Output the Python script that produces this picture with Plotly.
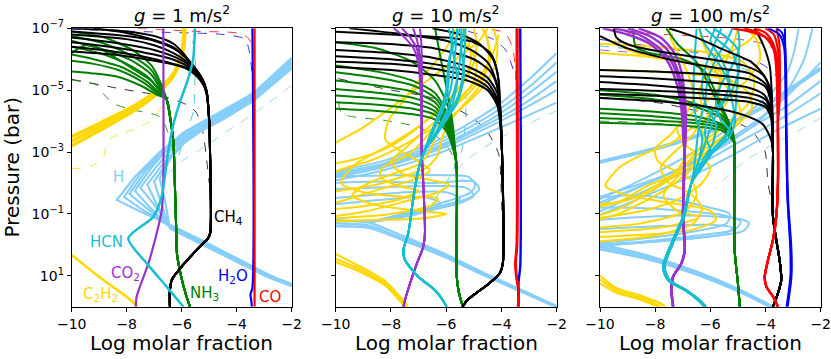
import plotly.graph_objects as go

# ---------------- colours ----------------
C_CH4 = "black"
C_NH3 = "#008000"
C_C2H2 = "#FFD700"
C_HCN = "#17BECF"
C_CO2 = "#9932CC"
C_H = "#87CEFA"
C_H2O = "#0000FF"
C_CO = "#FF0000"

titles = ["<i>g</i> = 1 m/s<sup>2</sup>", "<i>g</i> = 10 m/s<sup>2</sup>", "<i>g</i> = 100 m/s<sup>2</sup>"]
x_ticks = [-10, -8, -6, -4, -2]
x_ticktext = ["\u221210", "\u22128", "\u22126", "\u22124", "\u22122"]
y_tick_exp = [-7, -5, -3, -1, 1]
y_ticktext = ["10<sup>\u22127</sup>", "10<sup>\u22125</sup>", "10<sup>\u22123</sup>", "10<sup>\u22121</sup>", "10<sup>1</sup>"]

# points are (log molar fraction, log10 pressure [bar])
# ================= PANEL 1 : g = 1 =================
p1_CO = [(-3.35, -7.0), (-3.35, 2.0)]
p1_H2O = [(-3.43, -7.0), (-3.43, 1.4), (-3.5, 1.6), (-3.47, 1.8), (-3.45, 2.0)]
p1_CO_thin = [(-7.6, -7.0), (-5.5, -6.9), (-4.0, -6.85), (-3.6, -6.7), (-3.4, -6.4)]
p1_H2O_thin = [(-10.0, -6.97), (-7.0, -6.88), (-4.5, -6.8), (-3.7, -6.65), (-3.55, -6.3), (-3.45, -5.6)]

p1_CH4_heads = [
    [(-10, -7.0), (-8, -6.9), (-7, -6.75), (-6.3, -6.5), (-5.9, -6.15), (-5.6, -5.8), (-5.3, -5.45), (-5.1, -5.0)],
    [(-10, -6.9), (-8, -6.75), (-7, -6.6), (-6.3, -6.35), (-5.85, -6.05), (-5.55, -5.75), (-5.3, -5.42), (-5.1, -5.0)],
    [(-10, -6.8), (-8, -6.65), (-7, -6.45), (-6.3, -6.2), (-5.85, -5.95), (-5.55, -5.7), (-5.28, -5.38), (-5.1, -4.98)],
    [(-10, -6.7), (-8.2, -6.5), (-7, -6.3), (-6.2, -6.05), (-5.8, -5.85), (-5.5, -5.6), (-5.25, -5.35), (-5.1, -4.95)],
    [(-10, -6.55), (-8.2, -6.35), (-7, -6.15), (-6.2, -5.95), (-5.75, -5.75), (-5.45, -5.5), (-5.22, -5.25), (-5.08, -4.9)],
    [(-10, -6.4), (-8.5, -6.25), (-7.2, -6.05), (-6.3, -5.85), (-5.75, -5.7), (-5.4, -5.45), (-5.2, -5.2), (-5.08, -4.85)],
    [(-9.2, -7.0), (-8, -6.85), (-7, -6.62), (-6.3, -6.38), (-5.8, -6.0), (-5.5, -5.7), (-5.25, -5.35), (-5.1, -4.95)],
    [(-10, -6.25), (-8.5, -6.15), (-7.3, -6.0), (-6.4, -5.85), (-5.8, -5.68), (-5.45, -5.45), (-5.2, -5.15), (-5.08, -4.8)],
]
p1_CH4_tail = [(-5.0, -4.0), (-4.97, -3.0), (-4.96, -0.4), (-5.05, -0.2), (-5.33, 0.05), (-6.0, 0.7), (-6.36, 1.13), (-6.43, 1.5), (-6.43, 2.0)]
p1_CH4_thin = [(-10, -5.35), (-8.2, -5.04), (-6.67, -4.8), (-5.82, -4.53), (-5.46, -4.27), (-5.22, -3.6), (-5.1, -2.8), (-5.0, -2.0)]

p1_NH3_heads = [
    [(-10, -6.9), (-8.8, -6.7), (-7.8, -6.3), (-7.1, -5.8), (-6.75, -5.2), (-6.55, -4.7)],
    [(-10, -6.75), (-8.8, -6.5), (-7.8, -6.1), (-7.1, -5.65), (-6.75, -5.1), (-6.55, -4.7)],
    [(-10, -6.6), (-8.8, -6.3), (-7.8, -5.95), (-7.1, -5.5), (-6.75, -5.0), (-6.55, -4.7)],
    [(-10, -6.4), (-9, -6.2), (-8, -5.85), (-7.2, -5.4), (-6.78, -4.95), (-6.55, -4.7)],
    [(-10, -6.15), (-9.2, -6.0), (-8.2, -5.75), (-7.3, -5.3), (-6.8, -4.9), (-6.55, -4.7)],
    [(-10, -5.95), (-9.2, -5.85), (-8.3, -5.65), (-7.4, -5.25), (-6.85, -4.88), (-6.55, -4.7)],
    [(-10, -5.6), (-9.3, -5.55), (-8.4, -5.45), (-7.5, -5.15), (-6.9, -4.85), (-6.55, -4.7)],
    [(-10, -6.2), (-9.5, -6.45), (-9.0, -6.35), (-8.5, -6.1), (-7.8, -5.7), (-7.1, -5.3), (-6.75, -4.95), (-6.55, -4.7)],
]
p1_NH3_tail = [(-6.4, -4.0), (-6.3, -3.3), (-6.25, -2.0), (-6.2, -0.5), (-6.17, 0.3), (-6.0, 1.1), (-5.85, 1.6), (-5.7, 2.0)]
p1_NH3_thin = [(-10.0, -5.33), (-9.09, -5.17), (-8.97, -5.01), (-8.48, -4.57), (-7.76, -4.36), (-6.79, -4.14), (-6.49, -3.61), (-6.36, -3.07)]

p1_C2H2_band = [
    [(-10, -3.5), (-8.87, -3.98), (-7.66, -4.53), (-6.81, -5.05), (-6.27, -5.58), (-5.98, -6.3), (-5.92, -7.0)],
    [(-10, -3.35), (-8.87, -3.87), (-7.66, -4.46), (-6.81, -5.0), (-6.27, -5.54), (-5.96, -6.3), (-5.9, -7.0)],
    [(-10, -3.2), (-8.87, -3.75), (-7.66, -4.38), (-6.81, -4.95), (-6.27, -5.5), (-5.94, -6.3), (-5.88, -7.0)],
]
p1_C2H2_deep = [(-10, 0.33), (-8.85, 1.14), (-8.0, 1.68), (-7.6, 2.0)]
p1_C2H2_thin = [(-10, -2.47), (-9.33, -2.52), (-8.85, -2.85), (-8.67, -3.39), (-7.64, -3.77), (-7.16, -3.99), (-6.79, -4.41), (-6.6, -4.9)]

p1_CO2 = [(-6.67, -7.0), (-6.67, -2.0), (-6.72, -1.13), (-6.85, -0.59), (-7.21, 0.6), (-7.52, 1.35), (-7.64, 1.68), (-7.67, 2.0)]

p1_HCN = [(-5.52, -7.0), (-5.58, -6.03), (-5.76, -5.38), (-6.06, -4.63), (-6.31, -3.87), (-6.49, -3.01), (-6.55, -2.64),
          (-6.73, -1.56), (-7.03, -0.91), (-7.94, -0.21), (-7.27, 0.6), (-6.55, 1.35), (-5.94, 2.0)]
p1_HCN_thin = [(-5.6, -6.6), (-5.5, -5.9), (-5.52, -5.27), (-5.58, -4.3), (-5.88, -3.55), (-6.18, -2.69), (-6.4, -2.2)]

p1_H_lines = [
    [(-2.0, -6.05), (-3.4, -4.9), (-4.7, -4.25), (-5.9, -3.65), (-6.8, -3.0), (-7.7, -2.2), (-8.36, -1.45), (-7.6, -1.12), (-6.43, -0.64)],
    [(-2.0, -6.0), (-3.4, -4.85), (-4.7, -4.2), (-5.9, -3.6), (-6.7, -3.0), (-7.5, -2.3), (-8.1, -1.55), (-7.5, -1.18), (-6.43, -0.6)],
    [(-2.0, -5.95), (-3.4, -4.8), (-4.7, -4.15), (-5.8, -3.6), (-6.6, -3.05), (-7.3, -2.4), (-7.9, -1.65), (-7.3, -1.2), (-6.43, -0.6)],
    [(-2.0, -5.9), (-3.4, -4.75), (-4.7, -4.1), (-5.7, -3.6), (-6.5, -3.1), (-7.1, -2.5), (-7.7, -1.75), (-7.2, -1.25), (-6.43, -0.58)],
    [(-2.0, -5.85), (-3.4, -4.72), (-4.7, -4.07), (-5.6, -3.6), (-6.3, -3.15), (-6.9, -2.55), (-7.5, -1.85), (-7.0, -1.3), (-6.43, -0.58)],
    [(-2.0, -5.8), (-3.4, -4.7), (-4.7, -4.05), (-5.5, -3.62), (-6.1, -3.2), (-6.7, -2.6), (-7.25, -1.95), (-6.9, -1.3), (-6.43, -0.56)],
    [(-2.0, -5.75), (-3.4, -4.68), (-4.6, -4.05), (-5.4, -3.65), (-6.0, -3.25), (-6.5, -2.7), (-7.0, -2.05), (-6.75, -1.35), (-6.43, -0.55)],
    [(-2.0, -5.7), (-3.4, -4.65), (-4.5, -4.05), (-5.3, -3.68), (-5.9, -3.3), (-6.4, -2.8), (-6.8, -2.15), (-6.6, -1.4), (-6.43, -0.54)],
]
p1_H_tails = [
    [(-6.43, -0.64), (-5.21, -0.1), (-4.0, 0.45), (-2.79, 1.0), (-2.0, 1.28)],
    [(-6.43, -0.58), (-5.21, -0.05), (-4.0, 0.49), (-2.79, 1.03), (-2.0, 1.3)],
    [(-6.43, -0.54), (-5.21, 0.0), (-4.0, 0.53), (-2.79, 1.06), (-2.0, 1.32)],
]
p1_H_thin = [(-2.0, -5.15), (-3.2, -4.35), (-4.3, -3.7), (-5.2, -3.15), (-6.0, -2.7), (-6.5, -2.3)]

# ================= PANEL 2 : g = 10 =================
p2_CO = [(-3.45, -7.0), (-3.45, 0.0), (-3.5, 0.6), (-3.47, 1.0), (-3.38, 1.5), (-3.4, 2.0)]
p2_CO_b = [(-3.42, -7.0), (-3.43, 0.0), (-3.48, 0.6), (-3.45, 1.0), (-3.38, 1.5), (-3.4, 2.0)]
p2_H2O = [(-3.32, -7.0), (-3.32, 0.7), (-3.38, 1.2), (-3.38, 2.0)]
p2_CO_thin = [(-4.35, -6.96), (-3.87, -6.85), (-3.62, -6.43), (-3.5, -5.8), (-3.46, -5.0)]
p2_H2O_thin = [(-5.2, -6.9), (-4.3, -6.65), (-3.85, -6.3), (-3.55, -5.6), (-3.35, -5.0)]

p2_CH4_heads = [
    [(-10, -6.89), (-8, -6.8), (-6, -6.7), (-5, -6.55), (-4.4, -6.2), (-4.15, -5.6), (-4.05, -4.5)],
    [(-10, -6.55), (-8.2, -6.5), (-6.4, -6.35), (-5.0, -6.0), (-4.4, -5.6), (-4.15, -5.1), (-4.05, -4.3)],
    [(-10, -6.3), (-8, -6.2), (-6.5, -6.05), (-5.2, -5.75), (-4.5, -5.4), (-4.15, -4.9), (-4.05, -4.2)],
    [(-10, -6.1), (-8, -6.0), (-6.5, -5.85), (-5.2, -5.6), (-4.5, -5.25), (-4.15, -4.7), (-4.05, -4.1)],
    [(-10, -5.92), (-8, -5.85), (-6.5, -5.7), (-5.2, -5.45), (-4.5, -5.1), (-4.15, -4.6), (-4.05, -4.0)],
    [(-10, -5.75), (-8, -5.65), (-6.5, -5.5), (-5.2, -5.3), (-4.5, -5.0), (-4.15, -4.5), (-4.05, -4.0)],
    [(-9.5, -7.0), (-7.5, -6.8), (-6, -6.6), (-5.1, -6.3), (-4.5, -5.9), (-4.2, -5.3), (-4.05, -4.5)],
    [(-6.5, -7.0), (-5.5, -6.8), (-4.8, -6.5), (-4.3, -6.0), (-4.1, -5.3), (-4.05, -4.5)],
]
p2_CH4_tail = [(-3.98, -3.0), (-3.95, 0.6), (-4.05, 0.9), (-4.45, 1.25), (-4.9, 1.55), (-5.25, 1.8), (-5.4, 2.0)]
p2_CH4_thin = [(-9.9, -5.37), (-8.21, -5.04), (-6.4, -4.72), (-5.19, -4.18), (-4.59, -3.75), (-4.1, -2.94), (-4.02, -2.0), (-3.98, -1.0)]

p2_NH3_heads = [
    [(-10, -6.55), (-8.5, -6.35), (-7.2, -5.9), (-6.4, -5.3), (-5.95, -4.5), (-5.72, -3.4)],
    [(-10, -5.8), (-8.5, -5.6), (-7.2, -5.3), (-6.4, -4.9), (-5.95, -4.2), (-5.72, -3.3)],
    [(-10, -5.58), (-8.5, -5.4), (-7.2, -5.15), (-6.4, -4.75), (-5.95, -4.1), (-5.72, -3.25)],
    [(-10, -5.31), (-8.5, -5.15), (-7.2, -4.95), (-6.4, -4.6), (-5.95, -4.0), (-5.72, -3.2)],
    [(-10, -5.04), (-8.5, -4.92), (-7.2, -4.75), (-6.4, -4.45), (-5.95, -3.9), (-5.72, -3.15)],
    [(-10, -4.83), (-8.5, -4.73), (-7.2, -4.58), (-6.4, -4.32), (-5.95, -3.8), (-5.72, -3.1)],
    [(-10, -4.61), (-8.5, -4.53), (-7.2, -4.4), (-6.4, -4.2), (-5.95, -3.7), (-5.72, -3.05)],
    [(-10, -4.4), (-8.5, -4.33), (-7.2, -4.22), (-6.4, -4.05), (-5.95, -3.6), (-5.72, -3.0)],
    [(-6.4, -7.0), (-6.3, -6.5), (-6.15, -5.8), (-5.95, -4.9), (-5.75, -3.8), (-5.68, -3.0)],
]
p2_NH3_tail = [(-5.62, -2.5), (-5.62, 1.0), (-5.55, 1.5), (-5.4, 2.0)]
p2_NH3_thin = [(-9.9, -4.61), (-9.78, -4.24), (-9.3, -4.13), (-8.2, -4.02), (-7.0, -3.8), (-6.15, -3.37), (-5.8, -2.94), (-5.65, -2.4)]

p2_C2H2_lines = [
    [(-4.3, -7.0), (-4.15, -6.5), (-4.2, -5.9), (-4.5, -5.3), (-5.1, -4.7), (-5.9, -4.1), (-6.8, -3.6), (-7.8, -3.1), (-8.8, -2.7), (-9.6, -2.5), (-10.2, -2.3)],
    [(-4.7, -7.0), (-4.5, -6.6), (-4.4, -6.0), (-4.7, -5.4), (-5.3, -4.8), (-6.1, -4.2), (-6.9, -3.6), (-7.5, -3.1), (-8.0, -2.7), (-7.6, -2.3), (-6.6, -2.1), (-5.9, -1.95), (-6.3, -1.7), (-7.5, -1.4), (-8.8, -1.1), (-10.2, -0.9)],
    [(-5.0, -7.0), (-4.9, -6.5), (-5.0, -5.9), (-5.4, -5.2), (-6.2, -4.4), (-7.2, -3.7), (-8.3, -3.1), (-9.3, -2.6), (-9.8, -2.0), (-9.0, -1.7), (-7.5, -1.55), (-6.3, -1.5), (-6.6, -1.25), (-8.0, -1.0), (-10.2, -0.85)],
    [(-5.4, -7.0), (-5.2, -6.6), (-5.1, -6.0), (-5.3, -5.4), (-5.8, -4.8), (-6.5, -4.2), (-7.3, -3.6), (-8.0, -3.2), (-8.8, -2.9), (-9.6, -2.7), (-10.2, -2.6)],
    [(-5.8, -7.0), (-5.5, -6.7), (-5.2, -6.4), (-4.9, -5.9), (-5.0, -5.3), (-5.5, -4.7), (-6.1, -4.1), (-6.4, -3.5), (-6.6, -3.0), (-7.0, -2.6), (-7.9, -2.3), (-8.8, -2.0), (-9.4, -1.6), (-8.6, -1.3), (-7.0, -1.1), (-6.0, -1.0), (-6.9, -0.85), (-8.8, -0.8), (-10.2, -0.75)],
    [(-4.5, -7.0), (-4.8, -6.6), (-5.5, -6.1), (-6.4, -5.5), (-7.3, -4.9), (-8.2, -4.3), (-9.0, -3.8), (-9.8, -3.4), (-10.2, -3.2)],
    [(-4.1, -6.8), (-4.3, -6.2), (-4.6, -5.7), (-5.0, -5.2), (-5.7, -4.6), (-6.3, -4.0), (-6.8, -3.4), (-7.4, -2.9), (-8.3, -2.5), (-8.4, -2.2), (-7.7, -1.9), (-7.0, -1.75), (-7.6, -1.5), (-9.0, -1.25), (-10.2, -1.15)],
    [(-5.6, -7.0), (-5.9, -6.5), (-6.4, -5.9), (-7.0, -5.3), (-7.6, -4.6), (-8.1, -4.0), (-8.2, -3.4), (-7.6, -3.0), (-7.0, -2.7), (-6.6, -2.4), (-7.2, -2.1), (-8.4, -1.8), (-9.5, -1.5), (-10.2, -1.3)],
    [(-4.6, -6.95), (-4.45, -6.3), (-4.55, -5.6), (-4.9, -5.0), (-5.5, -4.4), (-6.0, -3.8), (-6.2, -3.3), (-6.3, -2.9), (-6.7, -2.5), (-7.6, -2.2), (-8.5, -1.95), (-9.5, -1.8), (-10.2, -1.7)],
]
p2_C2H2_deep = [
    [(-10, 0.3), (-9.3, 0.62), (-8.2, 1.18), (-7.45, 1.92), (-7.4, 2.0)],
    [(-10, 0.45), (-9.3, 0.72), (-8.2, 1.26), (-7.47, 1.96), (-7.45, 2.0)],
    [(-10, 0.55), (-9.3, 0.8), (-8.2, 1.32), (-7.5, 2.0)],
]

p2_CO2_heads = [
    [(-7.9, -7.0), (-7.5, -6.7), (-7.15, -6.3), (-7.0, -5.8), (-6.93, -5.0), (-6.9, -4.0)],
    [(-7.6, -7.0), (-7.3, -6.7), (-7.05, -6.3), (-6.95, -5.8), (-6.9, -5.0), (-6.89, -4.0)],
    [(-7.2, -7.0), (-7.05, -6.6), (-6.95, -6.1), (-6.9, -5.5), (-6.88, -4.0)],
    [(-6.95, -7.0), (-6.9, -6.5), (-6.88, -5.5), (-6.88, -4.0)],
]
p2_CO2_tail = [(-6.89, -3.07), (-6.83, -2.0), (-6.77, -0.38), (-6.83, 0.06), (-7.06, 0.6), (-7.31, 1.25), (-7.49, 1.78), (-7.55, 2.0)]

p2_HCN_heads = [
    [(-5.3, -7.0), (-5.35, -6.0), (-5.5, -5.0), (-5.9, -4.2), (-6.4, -3.5), (-6.77, -3.07)],
    [(-5.45, -7.0), (-5.5, -6.0), (-5.7, -5.0), (-6.1, -4.1), (-6.5, -3.45), (-6.77, -3.07)],
    [(-5.6, -7.0), (-5.7, -6.0), (-5.85, -5.0), (-6.2, -4.2), (-6.55, -3.5), (-6.77, -3.07)],
    [(-5.75, -7.0), (-5.85, -6.0), (-5.95, -5.0), (-6.3, -4.1), (-6.6, -3.5), (-6.77, -3.07)],
    [(-5.9, -7.0), (-5.75, -6.2), (-5.6, -5.3), (-5.8, -4.5), (-6.3, -3.7), (-6.77, -3.07)],
    [(-5.5, -7.0), (-5.9, -6.0), (-6.0, -5.0), (-6.2, -4.4), (-6.6, -3.5), (-6.77, -3.07)],
    [(-5.35, -7.0), (-5.45, -6.3), (-5.35, -5.5), (-5.6, -4.6), (-6.2, -3.8), (-6.77, -3.07)],
]
p2_HCN_tail = [(-6.77, -3.07), (-7.01, -2.42), (-7.2, -1.45), (-7.37, -0.38), (-7.55, 0.17), (-7.49, 0.49), (-7.01, 1.03), (-6.41, 1.46), (-6.05, 1.89), (-5.99, 2.0)]
p2_HCN_thin = [(-5.3, -5.0), (-5.3, -4.0), (-5.45, -3.0), (-6.0, -2.0), (-6.4, -1.5)]

p2_H_upper = [
    [(-2.0, -6.2), (-3.0, -5.35), (-4.23, -4.45), (-6.04, -3.49), (-8.21, -2.73), (-10.2, -2.35)],
    [(-2.0, -5.9), (-3.0, -5.1), (-4.3, -4.25), (-6.0, -3.4), (-8.2, -2.65), (-10.2, -2.3)],
    [(-2.0, -5.6), (-3.0, -4.9), (-4.4, -4.05), (-6.0, -3.3), (-8.2, -2.6), (-10.2, -2.25)],
    [(-2.0, -5.3), (-3.2, -4.55), (-4.5, -3.9), (-6.1, -3.2), (-8.2, -2.55), (-10.2, -2.2)],
    [(-2.0, -5.0), (-3.3, -4.35), (-4.6, -3.75), (-6.2, -3.1), (-8.3, -2.5), (-10.2, -2.15)],
    [(-2.0, -4.6), (-3.5, -4.0), (-4.8, -3.5), (-6.3, -2.95), (-8.3, -2.4), (-10.2, -2.05)],
]
p2_H_loops = [
    [(-10.2, -2.0), (-8.5, -2.05), (-6.5, -2.0), (-5.0, -2.05), (-4.8, -1.8), (-5.2, -1.5), (-6.5, -1.2), (-8.0, -0.9), (-8.8, -0.72)],
    [(-10.2, -1.8), (-8.5, -1.85), (-6.8, -1.9), (-5.3, -1.85), (-5.0, -1.6), (-5.5, -1.35), (-7.0, -1.05), (-8.5, -0.8), (-8.8, -0.72)],
    [(-10.2, -1.5), (-8.8, -1.6), (-7.5, -1.7), (-6.0, -1.7), (-5.5, -1.5), (-6.0, -1.25), (-7.5, -0.95), (-8.8, -0.72)],
    [(-10.2, -1.3), (-9.0, -1.4), (-7.8, -1.5), (-6.8, -1.55), (-6.2, -1.35), (-7.0, -1.0), (-8.8, -0.72)],
    [(-10.2, -2.2), (-8.0, -2.25), (-6.0, -2.25), (-5.2, -2.2), (-4.95, -1.95), (-5.1, -1.7), (-6.0, -1.4), (-7.6, -1.0), (-8.8, -0.72)],
]
p2_H_band = [
    [(-10.2, -0.8), (-8.8, -0.72), (-7.6, -0.3), (-6.04, 0.3), (-4.6, 0.93), (-3.27, 1.46), (-2.0, 1.98)],
    [(-10.2, -0.7), (-8.8, -0.62), (-7.6, -0.22), (-6.04, 0.36), (-4.6, 0.97), (-3.27, 1.5), (-2.0, 2.0)],
    [(-10.2, -0.6), (-8.8, -0.55), (-7.6, -0.16), (-6.04, 0.4), (-4.6, 1.0), (-3.27, 1.52), (-2.0, 2.02)],
]
p2_H_thin = [(-2.0, -4.34), (-3.98, -3.49), (-4.95, -2.95), (-5.6, -2.4), (-5.3, -2.0)]

# ================= PANEL 3 : g = 100 =================
p3_H2O_lines = [
    [(-3.3, -7.0), (-3.28, -6.0), (-3.26, -4.0), (-3.2, -1.45), (-3.08, 0.17), (-3.08, 1.03), (-3.2, 1.89), (-3.22, 2.0)],
    [(-3.9, -7.0), (-3.5, -6.8), (-3.33, -6.4), (-3.28, -5.5), (-3.26, -4.0), (-3.2, -1.45), (-3.1, 0.17), (-3.1, 1.03), (-3.22, 1.89), (-3.24, 2.0)],
    [(-3.6, -7.0), (-3.4, -6.85), (-3.3, -6.5), (-3.25, -5.5), (-3.24, -4.0), (-3.18, -1.45), (-3.06, 0.17), (-3.06, 1.03), (-3.18, 1.89), (-3.2, 2.0)],
]
p3_CO_heads = [
    [(-5.2, -7.0), (-4.6, -6.9), (-4.0, -6.7), (-3.7, -6.3), (-3.6, -5.5), (-3.57, -4.5)],
    [(-4.8, -7.0), (-4.3, -6.88), (-3.85, -6.6), (-3.65, -6.2), (-3.57, -5.4), (-3.56, -4.5)],
    [(-4.4, -7.0), (-4.0, -6.85), (-3.72, -6.5), (-3.58, -6.0), (-3.53, -5.0), (-3.54, -4.5)],
    [(-4.0, -7.0), (-3.7, -6.8), (-3.55, -6.3), (-3.5, -5.5), (-3.52, -4.5)],
    [(-3.6, -7.0), (-3.5, -6.5), (-3.48, -5.5), (-3.5, -4.5)],
]
p3_CO_tail = [(-3.55, -4.0), (-3.55, -2.0), (-3.61, -0.91), (-3.73, -0.16), (-3.91, 0.49), (-4.03, 1.03), (-3.97, 1.35), (-3.73, 1.67), (-3.55, 2.0)]
p3_CO_thin = [(-9.0, -6.85), (-5.0, -6.65), (-3.8, -6.4), (-3.55, -5.8), (-3.5, -4.5)]
p3_H2O_thin = [(-10, -6.64), (-6.4, -6.2), (-4.2, -5.87), (-3.6, -5.44), (-3.45, -4.5)]
p3_HCN_thin = [(-10, -6.43), (-7.6, -6.2), (-5.5, -5.9), (-4.5, -5.6)]
p3_CO2_thin = [(-10, -6.3), (-8.2, -6.15), (-7.4, -5.95)]

p3_CH4_heads = [
    [(-9.5, -7.0), (-9.4, -6.7), (-8.9, -6.45), (-7.5, -6.2), (-6.0, -6.0), (-4.8, -5.8), (-4.1, -5.5), (-3.8, -5.0), (-3.75, -4.2)],
    [(-10, -6.75), (-9.0, -6.35), (-7.5, -6.0), (-6.0, -5.75), (-4.6, -5.55), (-4.0, -5.2), (-3.8, -4.7), (-3.75, -4.0)],
    [(-10, -5.65), (-8, -5.6), (-6, -5.5), (-4.6, -5.35), (-4.0, -5.1), (-3.8, -4.6), (-3.75, -4.0)],
    [(-10, -5.26), (-8, -5.15), (-6, -5.0), (-4.6, -4.9), (-4.0, -4.7), (-3.8, -4.3), (-3.75, -3.8)],
    [(-10, -5.04), (-8, -4.98), (-6, -4.88), (-4.6, -4.75), (-4.0, -4.55), (-3.8, -4.2), (-3.75, -3.7)],
    [(-10, -4.88), (-8, -4.82), (-6, -4.72), (-4.6, -4.62), (-4.0, -4.45), (-3.8, -4.1), (-3.75, -3.6)],
    [(-10, -4.75), (-8, -4.65), (-6, -4.45), (-4.8, -4.2), (-4.1, -3.9), (-3.8, -3.4)],
    [(-7.5, -7.0), (-6.5, -6.7), (-5.5, -6.3), (-4.5, -5.9), (-4.0, -5.4), (-3.8, -4.8), (-3.75, -4.0)],
    [(-4.4, -7.0), (-4.1, -6.5), (-3.85, -5.8), (-3.78, -5.0), (-3.75, -4.0)],
    [(-10, -5.45), (-8, -5.38), (-6, -5.25), (-4.7, -5.1), (-4.05, -4.85), (-3.8, -4.4), (-3.75, -3.9)],
]
p3_CH4_tail = [(-3.73, -3.0), (-3.73, -0.91), (-3.61, -0.16), (-3.49, 0.49), (-3.43, 1.14), (-3.55, 1.57), (-3.73, 2.0)]
p3_CH4_thin = [(-10, -4.77), (-7.66, -4.56), (-5.24, -4.02), (-4.52, -3.7), (-4.03, -3.05), (-3.91, -1.99), (-3.79, -1.45), (-3.65, -0.9)]

p3_NH3_heads = [
    [(-8.8, -7.0), (-8.7, -6.4), (-8.2, -6.2), (-7.0, -6.0), (-6.2, -5.6), (-5.7, -4.7), (-5.3, -3.9), (-5.12, -3.3)],
    [(-7.6, -7.0), (-7.2, -6.5), (-6.5, -5.9), (-5.9, -4.9), (-5.4, -4.0), (-5.15, -3.4)],
    [(-10, -5.0), (-8, -4.85), (-6.5, -4.55), (-5.6, -4.2), (-5.2, -3.7), (-5.12, -3.2)],
    [(-10, -4.85), (-8, -4.7), (-6.5, -4.45), (-5.6, -4.1), (-5.2, -3.65), (-5.12, -3.2)],
    [(-10, -4.4), (-8, -4.3), (-6.5, -4.15), (-5.6, -3.9), (-5.2, -3.55), (-5.12, -3.2)],
    [(-10, -4.25), (-8, -4.15), (-6.5, -4.02), (-5.6, -3.85), (-5.2, -3.5), (-5.12, -3.2)],
    [(-10, -4.1), (-8, -4.02), (-6.5, -3.93), (-5.6, -3.78), (-5.2, -3.45), (-5.12, -3.2)],
    [(-10, -3.95), (-8, -3.9), (-6.5, -3.82), (-5.6, -3.7), (-5.2, -3.4), (-5.12, -3.2)],
]
p3_NH3_tail = [(-5.12, -3.0), (-5.12, 0.17), (-5.0, 1.25), (-4.93, 2.0)]
p3_NH3_thin = [(-10, -4.0), (-7.6, -3.9), (-5.8, -3.62), (-5.2, -3.2)]

p3_CO2_heads = [
    [(-9.9, -7.0), (-9.0, -6.8), (-8.2, -6.5), (-7.6, -6.0), (-7.25, -5.3), (-7.05, -4.4), (-6.97, -3.3)],
    [(-9.5, -7.0), (-8.6, -6.8), (-7.9, -6.4), (-7.4, -5.9), (-7.15, -5.3), (-7.0, -4.4), (-6.95, -3.3)],
    [(-9.0, -7.0), (-8.2, -6.75), (-7.6, -6.35), (-7.25, -5.8), (-7.05, -5.2), (-6.95, -4.4), (-6.93, -3.3)],
    [(-8.6, -7.0), (-7.8, -6.7), (-7.3, -6.2), (-7.05, -5.6), (-6.95, -5.0), (-6.9, -4.4), (-6.9, -3.3)],
]
p3_CO2_tail = [(-6.93, -3.07), (-6.99, -0.91), (-6.93, 0.17), (-7.05, 0.6), (-7.35, 1.03), (-7.41, 1.46), (-7.35, 2.0)]

p3_HCN_heads = [
    [(-6.4, -7.0), (-6.2, -6.5), (-5.8, -6.0), (-5.4, -5.4), (-5.2, -4.6), (-5.1, -4.0), (-5.3, -3.5), (-5.9, -3.0), (-6.3, -2.5), (-6.69, -1.99)],
    [(-6.2, -7.0), (-5.7, -6.6), (-5.2, -6.2), (-5.0, -5.6), (-5.2, -5.0), (-5.6, -4.5), (-5.9, -4.0), (-6.1, -3.5), (-6.3, -3.0), (-6.69, -1.99)],
    [(-5.9, -7.0), (-5.4, -6.7), (-5.0, -6.3), (-4.95, -5.8), (-5.05, -5.0), (-5.1, -4.3), (-5.4, -3.6), (-6.0, -3.0), (-6.4, -2.4), (-6.69, -1.99)],
    [(-5.6, -7.0), (-5.9, -6.4), (-6.2, -5.7), (-6.3, -5.0), (-6.1, -4.4), (-5.8, -3.9), (-5.9, -3.3), (-6.3, -2.7), (-6.69, -1.99)],
    [(-5.2, -7.0), (-5.4, -6.6), (-5.8, -6.0), (-6.1, -5.3), (-6.2, -4.6), (-6.4, -3.9), (-6.5, -3.2), (-6.6, -2.4), (-6.69, -1.99)],
    [(-5.0, -7.0), (-4.95, -6.4), (-5.2, -5.8), (-5.6, -5.2), (-5.8, -4.6), (-5.6, -4.0), (-5.3, -3.7), (-5.7, -3.2), (-6.3, -2.6), (-6.69, -1.99)],
    [(-6.5, -7.0), (-6.55, -6.3), (-6.6, -5.5), (-6.6, -4.7), (-6.5, -4.0), (-6.3, -3.5), (-6.4, -2.8), (-6.69, -1.99)],
    [(-5.8, -7.0), (-6.0, -6.6), (-5.6, -6.0), (-5.3, -5.3), (-5.5, -4.7), (-6.0, -4.2), (-6.2, -3.6), (-6.0, -3.0), (-6.4, -2.4), (-6.69, -1.99)],
]
p3_HCN_tails = [
    [(-6.69, -1.99), (-6.99, -0.91), (-7.41, -0.05), (-7.72, 0.71), (-7.54, 1.14), (-6.93, 1.46), (-6.45, 1.78), (-6.21, 2.0)],
    [(-6.69, -1.99), (-6.95, -0.91), (-7.36, -0.05), (-7.66, 0.71), (-7.48, 1.14), (-6.88, 1.46), (-6.4, 1.78), (-6.16, 2.0)],
]

p3_C2H2_lines = [
    [(-10, -6.5), (-8, -6.4), (-6, -6.2), (-4.8, -5.9), (-4.4, -5.3), (-4.6, -4.6), (-5.3, -4.0), (-6.0, -3.5), (-6.6, -2.9), (-7.2, -2.3), (-8.2, -1.7), (-9.2, -1.2), (-10.2, -0.9)],
    [(-10, -5.65), (-8, -5.6), (-6.5, -5.5), (-5.2, -5.3), (-4.6, -4.9), (-4.5, -4.4), (-5.0, -3.9), (-5.8, -3.3), (-6.5, -2.7), (-7.3, -2.1), (-7.7, -1.6), (-7.2, -1.1), (-6.4, -0.9), (-7.5, -0.6), (-10.2, -0.4)],
    [(-6.4, -7.0), (-6.3, -6.6), (-6.0, -6.0), (-5.6, -5.3), (-5.1, -4.8), (-4.9, -4.2), (-5.4, -3.6), (-6.2, -3.1), (-7.0, -2.5), (-7.8, -2.0), (-8.8, -1.5), (-10.2, -1.2)],
    [(-4.2, -7.0), (-4.6, -6.6), (-5.3, -6.2), (-6.0, -5.6), (-6.4, -5.0), (-6.3, -4.4), (-6.6, -3.6), (-7.3, -3.0), (-7.8, -2.5), (-7.5, -2.0), (-6.8, -1.7), (-6.3, -1.2), (-6.6, -0.7), (-8.0, -0.3), (-10.2, -0.1)],
    [(-5.0, -7.0), (-5.2, -6.4), (-5.5, -5.8), (-5.7, -5.1), (-5.6, -4.4), (-5.7, -3.7), (-6.2, -3.2), (-6.9, -2.8), (-7.3, -2.3), (-8.3, -1.9), (-9.3, -1.4), (-10.2, -1.3)],
    [(-7.5, -7.0), (-7.4, -6.6), (-7.1, -6.1), (-6.8, -5.5), (-6.6, -4.8), (-6.9, -4.2), (-7.4, -3.6), (-8.0, -3.1), (-7.9, -2.7), (-7.3, -2.4), (-6.7, -2.1), (-6.5, -1.6), (-6.9, -1.1), (-8.5, -0.7), (-10.2, -0.55)],
    [(-9.5, -6.6), (-9.0, -6.3), (-8.0, -6.05), (-6.8, -5.9), (-5.8, -5.7), (-5.2, -5.2), (-5.4, -4.6), (-6.0, -4.1), (-6.8, -3.7), (-7.4, -3.3), (-8.5, -2.9), (-9.3, -2.5), (-9.8, -1.9), (-9.0, -1.6), (-7.8, -1.4), (-6.0, -1.1), (-5.8, -0.8), (-6.6, -0.5), (-8.0, -0.35), (-10.2, -0.25)],
    [(-4.7, -7.0), (-4.3, -6.6), (-4.2, -6.0), (-4.6, -5.4), (-5.2, -4.9), (-5.9, -4.4), (-6.3, -3.8), (-6.2, -3.2), (-6.5, -2.6), (-7.0, -2.2), (-7.6, -1.8), (-8.4, -1.4), (-9.5, -0.95), (-10.2, -0.8)],
    [(-10, -6.2), (-8.5, -6.1), (-7.0, -5.95), (-6.2, -5.75), (-5.6, -5.4), (-5.8, -4.9), (-6.6, -4.3), (-7.2, -3.8), (-7.0, -3.3), (-6.4, -2.9), (-6.0, -2.5), (-6.3, -2.0), (-7.1, -1.5), (-8.2, -1.15), (-9.4, -0.95), (-10.2, -0.85)],
]
p3_C2H2_deep = [
    [(-10, 1.0), (-9.4, 1.4), (-8.5, 1.65), (-7.7, 1.95), (-7.65, 2.0)],
    [(-10, 1.12), (-9.4, 1.48), (-8.5, 1.72), (-7.8, 2.0)],
    [(-10, 1.25), (-9.4, 1.55), (-8.5, 1.78), (-7.9, 2.0)],
]

p3_H_upper = [
    [(-2.3, -7.0), (-2.6, -6.0), (-3.2, -5.0), (-4.0, -4.2), (-5.0, -3.5), (-6.5, -2.7), (-8.5, -1.9), (-10.2, -1.2)],
    [(-2.0, -5.9), (-3.0, -5.0), (-4.2, -4.1), (-5.5, -3.3), (-7.0, -2.5), (-8.8, -1.8), (-10.2, -1.3)],
    [(-2.0, -5.3), (-3.2, -4.5), (-4.5, -3.8), (-6.0, -3.0), (-7.8, -2.2), (-10.2, -1.5)],
    [(-2.0, -4.9), (-3.4, -4.1), (-4.8, -3.4), (-6.2, -2.7), (-8.0, -1.9), (-10.2, -1.0)],
    [(-2.0, -4.4), (-3.6, -3.7), (-5.0, -3.0), (-6.5, -2.3), (-8.3, -1.6), (-10.2, -0.9)],
    [(-2.8, -7.0), (-2.95, -6.3), (-3.2, -5.6), (-3.8, -4.9), (-4.6, -4.3), (-5.6, -3.6), (-6.8, -2.9), (-8.5, -2.1), (-10.2, -1.4)],
]
p3_H_thick = [(-10, -2.68), (-7.66, -3.19), (-5.8, -3.75), (-4.2, -4.4), (-3.0, -5.1), (-2.0, -5.7)]
p3_H_loops = [
    [(-10.2, -0.8), (-8.5, -0.9), (-6.8, -0.95), (-5.0, -0.85), (-4.6, -0.7), (-4.8, -0.45), (-6.2, -0.25), (-8.0, -0.1), (-10.2, 0.02)],
    [(-10.2, -1.2), (-8.8, -1.2), (-7.0, -1.1), (-5.5, -0.95), (-4.9, -0.75), (-5.1, -0.5), (-6.5, -0.3), (-8.5, -0.1), (-10.2, 0.0)],
    [(-10.2, -0.5), (-8.0, -0.6), (-6.0, -0.65), (-5.2, -0.55), (-5.5, -0.35), (-7.5, -0.15), (-10.2, 0.05)],
    [(-10.2, -1.5), (-9.0, -1.6), (-7.6, -1.5), (-6.0, -1.2), (-5.3, -1.0), (-5.4, -0.7), (-6.8, -0.4), (-9.0, -0.15), (-10.2, -0.05)],
]
p3_H_band = [
    [(-10, -0.02), (-8.26, 0.35), (-6.45, 0.88), (-5.0, 1.42), (-4.03, 1.86), (-3.75, 2.0)],
    [(-10, 0.06), (-8.26, 0.41), (-6.45, 0.93), (-5.0, 1.46), (-4.03, 1.89), (-3.79, 2.0)],
    [(-10, 0.14), (-8.26, 0.47), (-6.45, 0.98), (-5.0, 1.5), (-4.03, 1.92), (-3.84, 2.0)],
]
p3_H_thin = [(-2.0, -4.1), (-3.2, -3.5), (-4.6, -2.8), (-5.3, -2.3), (-5.8, -1.8)]

# ---------------- figure ----------------
fig = go.Figure()
AX = ["x", "x2", "x3"]
AY = ["y", "y2", "y3"]


def add(k, pts, color, width=2.0, dash=None, spline=True):
    fig.add_trace(go.Scatter(
        x=[p[0] for p in pts], y=[10 ** p[1] for p in pts], mode="lines",
        line=dict(color=color, width=width, dash=dash, shape="spline" if spline else "linear", smoothing=0.7),
        xaxis=AX[k], yaxis=AY[k], showlegend=False, hoverinfo="skip"))


TW = 0.8
# ---- panel 1 ----
add(0, p1_CO_thin, C_CO, TW, "dash")
add(0, p1_H2O_thin, C_H2O, TW, "dash")
add(0, p1_CH4_thin, C_CH4, TW, "dash")
add(0, p1_NH3_thin, C_NH3, TW, "dash")
add(0, p1_C2H2_thin, C_C2H2, TW, "dash")
add(0, p1_HCN_thin, C_HCN, TW, "dash")
add(0, p1_H_thin, C_H, TW, "dash")
for i, h in enumerate(p1_H_lines):
    add(0, h, C_H, 2.2, spline=False)
    add(0, p1_H_tails[i % 3], C_H, 2.6)
for b in p1_C2H2_band:
    add(0, b, C_C2H2, 3.5)
add(0, p1_C2H2_deep, C_C2H2, 2.5)
for h in p1_NH3_heads:
    add(0, h + p1_NH3_tail, C_NH3, 2.0)
for h in p1_CH4_heads:
    add(0, h + p1_CH4_tail, C_CH4, 2.0)
add(0, p1_CO2, C_CO2, 2.2)
add(0, p1_HCN, C_HCN, 2.5)
add(0, p1_H2O, C_H2O, 2.2)
add(0, p1_CO, C_CO, 2.2)

# ---- panel 2 ----
add(1, p2_CO_thin, C_CO, TW, "dash")
add(1, p2_H2O_thin, C_H2O, TW, "dash")
add(1, p2_CH4_thin, C_CH4, TW, "dash")
add(1, p2_NH3_thin, C_NH3, TW, "dash")
add(1, p2_HCN_thin, C_HCN, TW, "dash")
add(1, p2_H_thin, C_H, TW, "dash")
for h in p2_H_upper:
    add(1, h, C_H, 2.0)
for h in p2_H_loops:
    add(1, h, C_H, 2.0)
for h in p2_H_band:
    add(1, h, C_H, 2.4)
for y in p2_C2H2_lines:
    add(1, y, C_C2H2, 2.0)
for y in p2_C2H2_deep:
    add(1, y, C_C2H2, 2.2)
for h in p2_NH3_heads:
    add(1, h + p2_NH3_tail, C_NH3, 2.0)
for h in p2_CH4_heads:
    add(1, h + p2_CH4_tail, C_CH4, 2.0)
for h in p2_CO2_heads:
    add(1, h + p2_CO2_tail, C_CO2, 2.0)
for h in p2_HCN_heads:
    add(1, h + p2_HCN_tail[1:], C_HCN, 2.0)
add(1, p2_H2O, C_H2O, 2.4)
add(1, p2_CO, C_CO, 2.4)
add(1, p2_CO_b, C_CO, 2.4)

# ---- panel 3 ----
add(2, p3_CO_thin, C_CO, TW, "dash")
add(2, p3_H2O_thin, C_H2O, TW, "dash")
add(2, p3_HCN_thin, C_HCN, TW, "dash")
add(2, p3_CO2_thin, C_CO2, TW, "dash")
add(2, p3_CH4_thin, C_CH4, TW, "dash")
add(2, p3_NH3_thin, C_NH3, TW, "dash")
add(2, p3_H_thin, C_H, TW, "dash")
for h in p3_H_upper:
    add(2, h, C_H, 2.0)
add(2, p3_H_thick, C_H, 4.0)
for h in p3_H_loops:
    add(2, h, C_H, 2.0)
for h in p3_H_band:
    add(2, h, C_H, 2.4)
for y in p3_C2H2_lines:
    add(2, y, C_C2H2, 2.0)
for y in p3_C2H2_deep:
    add(2, y, C_C2H2, 2.2)
for h in p3_NH3_heads:
    add(2, h + p3_NH3_tail, C_NH3, 2.0)
for h in p3_CO2_heads:
    add(2, h + p3_CO2_tail, C_CO2, 2.4)
for i, h in enumerate(p3_HCN_heads):
    add(2, h + p3_HCN_tails[i % 2][1:], C_HCN, 2.0)
for h in p3_CH4_heads:
    add(2, h + p3_CH4_tail, C_CH4, 2.0)
for h in p3_CO_heads:
    add(2, h + p3_CO_tail, C_CO, 2.2)
for h in p3_H2O_lines:
    add(2, h, C_H2O, 2.0)

# ---------------- layout ----------------
W, H = 831, 359


def fx(px):
    return px / W


def fy(py):
    return 1 - py / H


x_domains = [[fx(71.7), fx(291.7)], [fx(335.7), fx(556.7)], [fx(600.0), fx(820.7)]]
y_domain = [fy(306.7), fy(28.3)]
FONT = "DejaVu Sans"

layout = dict(width=W, height=H, margin=dict(l=0, r=0, t=0, b=0, pad=0, autoexpand=False),
              paper_bgcolor="white", plot_bgcolor="white",
              font=dict(family=FONT, color="black"), showlegend=False)
axis_common = dict(showline=True, linecolor="black", linewidth=1, mirror=True, ticks="outside",
                   ticklen=4, tickwidth=1, tickcolor="black", showgrid=False, zeroline=False,
                   automargin=False, ticklabeloverflow="allow",
                   tickfont=dict(family=FONT, size=14, color="black"))
for k in range(3):
    sx = "xaxis" if k == 0 else f"xaxis{k + 1}"
    sy = "yaxis" if k == 0 else f"yaxis{k + 1}"
    layout[sx] = dict(axis_common, domain=x_domains[k], range=[-10, -2], tickvals=x_ticks,
                      ticktext=x_ticktext, anchor=AY[k])
    layout[sy] = dict(axis_common, domain=y_domain, type="log", range=[2, -7],
                      tickvals=[10.0 ** e for e in y_tick_exp], ticktext=y_ticktext,
                      showticklabels=(k == 0), anchor=AX[k])
fig.update_layout(**layout)

ann = []
for k in range(3):
    cx = (x_domains[k][0] + x_domains[k][1]) / 2
    ann.append(dict(text=titles[k], x=cx, y=fy(14), xref="paper", yref="paper",
                    showarrow=False, font=dict(size=18, family=FONT), xanchor="center", yanchor="middle"))
    ann.append(dict(text="Log molar fraction", x=cx, y=fy(343), xref="paper", yref="paper",
                    showarrow=False, font=dict(size=20, family=FONT), xanchor="center", yanchor="middle"))
ann.append(dict(text="Pressure (bar)", x=fx(11), y=fy(167.5), xref="paper", yref="paper",
                textangle=-90, showarrow=False, font=dict(size=20, family=FONT),
                xanchor="center", yanchor="middle"))

species_labels = [
    ("H", -8.3, -2.2, C_H),
    ("CH<sub>4</sub>", -4.3, -0.89, C_CH4),
    ("HCN", -8.73, -0.1, C_HCN),
    ("CO<sub>2</sub>", -8.06, 0.92, C_CO2),
    ("H<sub>2</sub>O", -4.13, 1.03, C_H2O),
    ("NH<sub>3</sub>", -5.18, 1.57, C_NH3),
    ("C<sub>2</sub>H<sub>2</sub>", -8.97, 1.62, C_C2H2),
    ("CO", -2.79, 1.68, C_CO),
]
for txt, lx, ly, col in species_labels:
    ann.append(dict(text=txt, x=lx, y=ly, xref="x", yref="y", showarrow=False,
                    font=dict(size=15, family=FONT, color=col), xanchor="center", yanchor="middle"))
fig.update_layout(annotations=ann)

# remove the browser's default 8 px page margin so the figure sits at the window corner
fig.write_html("out.html", config={"displayModeBar": False, "staticPlot": True},
               post_script="document.body.style.margin='0px';")
